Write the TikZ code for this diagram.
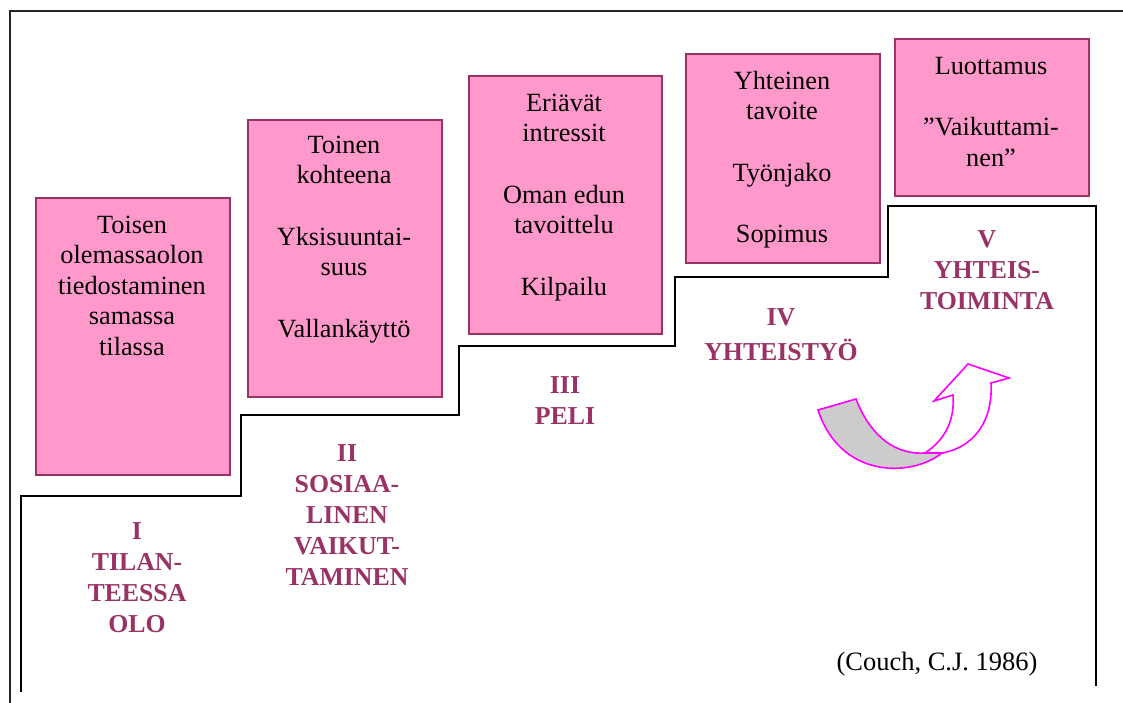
\documentclass[tikz,border=0pt]{standalone}
\usepackage{fontspec}
\setmainfont{Liberation Serif}
\definecolor{plum}{HTML}{993366}
\definecolor{pinkfill}{HTML}{FF99CC}
\definecolor{arrowline}{HTML}{FF00FF}
\definecolor{arrowgray}{HTML}{CCCCCC}
\newcommand{\firstline}{\rule{0pt}{20pt}}
\begin{document}
\begin{tikzpicture}[x=1pt,y=-1pt,
  stagebox/.style={draw=plum, line width=2pt, fill=pinkfill, anchor=north west, inner sep=0pt},
  boxtext/.style={anchor=north, align=center, inner sep=0pt,
    font=\fontsize{26.3}{30.5}\selectfont},
  stagelabel/.style={anchor=north, align=center, inner sep=0pt, text=plum,
    font=\fontsize{25.8}{31}\selectfont\bfseries},
  frameline/.style={draw=black!85, line width=1.3pt},
  stairline/.style={draw=black, line width=2pt},
  arrowpart/.style={draw=arrowline, line width=1.6pt, line join=miter}]
\useasboundingbox (0,0) rectangle (1123,703);

% outer frame
\draw[frameline] (10,703) -- (10,11) -- (1123,11);

% staircase
\draw[stairline] (21,692) -- (21,496) -- (241,496) -- (241,415) -- (459,415)
  -- (459,346) -- (675,346) -- (675,277) -- (888,277) -- (888,206)
  -- (1096,206) -- (1096,686);

% stage boxes
\node[stagebox, minimum width=194pt, minimum height=277pt] (b1) at (35,197) {};
\node[stagebox, minimum width=194pt, minimum height=277pt] (b2) at (247,119) {};
\node[stagebox, minimum width=193pt, minimum height=258pt] (b3) at (468,75) {};
\node[stagebox, minimum width=194pt, minimum height=209pt] (b4) at (685,53) {};
\node[stagebox, minimum width=194pt, minimum height=157pt] (b5) at (894,38) {};

% box texts
\node[boxtext] (t1) at (132,213) {\firstline Toisen\\olemassaolon\\tiedostaminen\\samassa\\tilassa};
\node[boxtext] (t2) at (344,133) {\firstline Toinen\\kohteena\\[31pt]Yksisuuntai-\\suus\\[31pt]Vallankäyttö};
\node[boxtext] (t3) at (564,91) {\firstline Eriävät\\intressit\\[31pt]Oman edun\\tavoittelu\\[31pt]Kilpailu};
\node[boxtext] (t4) at (782,69) {\firstline Yhteinen\\tavoite\\[31pt]Työnjako\\[31pt]Sopimus};
\node[boxtext] (t5) at (991,54) {\firstline Luottamus\\[31pt]”Vaikuttami-\\nen”};

% stage labels
\node[stagelabel] (l1) at (137,519) {\firstline I\\TILAN-\\TEESSA\\OLO};
\node[stagelabel] (l2) at (347,441) {\firstline II\\SOSIAA-\\LINEN\\VAIKUT-\\TAMINEN};
\node[stagelabel] (l3) at (565,373) {\firstline III\\PELI};
\node[stagelabel] (l4) at (781,305) {\firstline IV\\[4pt]YHTEISTYÖ};
\node[stagelabel] (l5) at (987,227) {\firstline V\\YHTEIS-\\TOIMINTA};

% source
\node[anchor=base, inner sep=0pt, font=\fontsize{26.5}{30}\selectfont] (src) at (937,670) {(Couch, C.J. 1986)};

% curved arrow: grey underside, then white front with head
\draw[arrowpart, fill=arrowgray] (818,410) -- (856,399)
  .. controls (868,430) and (890,455) .. (925,453) -- (942,453)
  .. controls (910,478) and (840,478) .. (818,410) -- cycle;
\draw[arrowpart, fill=white] (925,453)
  .. controls (945,440) and (955,420) .. (953,395) -- (934,401) -- (968,364)
  -- (1009,378) -- (991,383)
  .. controls (993,420) and (975,447) .. (942,453) -- cycle;
\end{tikzpicture}
\end{document}
